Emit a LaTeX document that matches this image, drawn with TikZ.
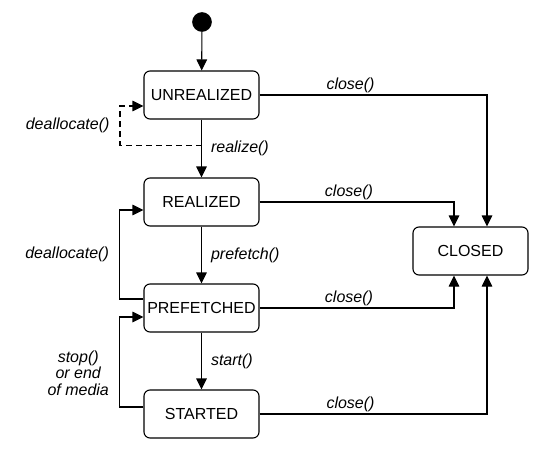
\documentclass[tikz,border=0pt]{standalone}
\usepackage{fontspec}
\setmainfont{Liberation Sans}
\usetikzlibrary{arrows.meta}

\begin{document}
\begin{tikzpicture}[x=1pt, y=-1pt, line width=1.1pt, >={Triangle[length=11pt,width=10.5pt]},
        state/.style={draw, rounded corners=6pt, minimum width=115pt, minimum height=48pt, inner sep=1pt, font=\fontsize{16}{18}\selectfont},
        start/.style={draw, circle, fill=black, minimum size=18.5pt, inner sep=0pt},
        lbl/.style={font=\fontsize{16}{16.5}\selectfont\itshape, inner sep=2pt}]
            \useasboundingbox (0,0) rectangle (550,455);
            \node[start] (init) at (202,22) {};
            \node[state] (unreal) at (201.5,95) {UNREALIZED};
            \node[state] (real) at (201.5,202) {REALIZED};
            \node[state] (pref) at (201.5,308) {PREFETCHED};
            \node[state] (started) at (201.5,414) {STARTED};
            \node[state] (closed) at (470.5,251) {CLOSED};
            \coordinate (split) at ([yshift=-26pt]unreal.south);
            \draw[->] (init) -- (unreal);
            \draw[->] (unreal) -- node[lbl, right=7pt, pos=0.5] {realize()} (real);
            \draw[->] (real) -- node[lbl, right=7pt] {prefetch()} (pref);
            \draw[->] (pref) -- node[lbl, right=7pt] {start()} (started);
            \draw[dash pattern=on 6pt off 4pt, ->] (split) -- ++(-81.5,0) |- node[lbl, left=8pt, pos=0.25] {deallocate()} ([yshift=-11pt]unreal.west);
            \draw[->] ([yshift=9pt]pref.west) -- ++(-24,0) |- node[lbl, left=8pt, pos=0.25] {deallocate()} ([yshift=-8pt]real.west);
            \draw[->] ([yshift=7pt]started.west) -- ++(-24,0) |- node[lbl, left=8pt, pos=0.19, align=center] {stop()\\or end\\of media} ([yshift=-9pt]pref.west);
            \draw[->] (unreal.east) -| node[lbl, above, pos=0.2] {close()} ([xshift=16.5pt]closed.north);
            \draw[->] (real.east) -| node[lbl, above, pos=0.23] {close()} ([xshift=-16.5pt]closed.north);
            \draw[->] (pref.east) -| node[lbl, above, pos=0.23] {close()} ([xshift=-16.5pt]closed.south);
            \draw[->] (started.east) -| node[lbl, above, pos=0.2] {close()} ([xshift=16.5pt]closed.south);
        \end{tikzpicture}
\end{document}
